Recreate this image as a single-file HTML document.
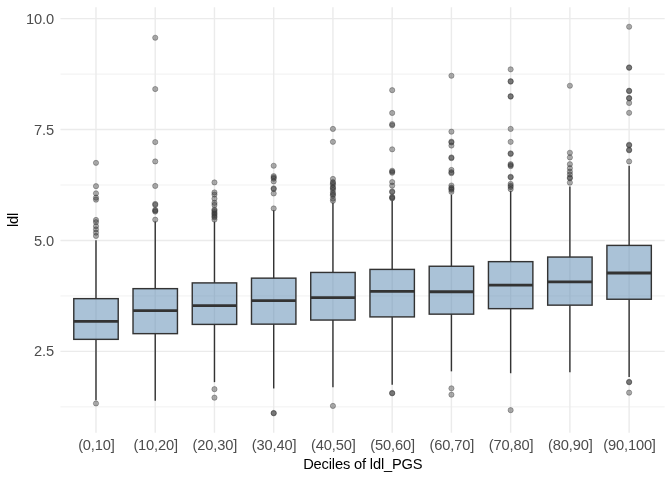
<!DOCTYPE html>
<html lang="en"><head><meta charset="utf-8"><title>ldl by deciles of ldl_PGS</title>
<style>html,body{margin:0;padding:0;background:#fff;overflow:hidden}body{width:672px;height:480px}</style></head>
<body>
<svg width="672" height="480" viewBox="0 0 672 480" style="display:block">
<rect width="672" height="480" fill="#fff"/>
<g stroke="#EBEBEB" stroke-width="0.71" fill="none">
<line x1="60.45" x2="664.67" y1="406.86" y2="406.86"/>
<line x1="60.45" x2="664.67" y1="295.94" y2="295.94"/>
<line x1="60.45" x2="664.67" y1="185.03" y2="185.03"/>
<line x1="60.45" x2="664.67" y1="74.11" y2="74.11"/>
</g>
<g stroke="#EBEBEB" stroke-width="1.42" fill="none">
<line x1="60.45" x2="664.67" y1="351.40" y2="351.40"/>
<line x1="60.45" x2="664.67" y1="240.48" y2="240.48"/>
<line x1="60.45" x2="664.67" y1="129.57" y2="129.57"/>
<line x1="60.45" x2="664.67" y1="18.65" y2="18.65"/>
<line x1="95.99" x2="95.99" y1="7.33" y2="432.70"/>
<line x1="155.23" x2="155.23" y1="7.33" y2="432.70"/>
<line x1="214.47" x2="214.47" y1="7.33" y2="432.70"/>
<line x1="273.70" x2="273.70" y1="7.33" y2="432.70"/>
<line x1="332.94" x2="332.94" y1="7.33" y2="432.70"/>
<line x1="392.18" x2="392.18" y1="7.33" y2="432.70"/>
<line x1="451.42" x2="451.42" y1="7.33" y2="432.70"/>
<line x1="510.65" x2="510.65" y1="7.33" y2="432.70"/>
<line x1="569.89" x2="569.89" y1="7.33" y2="432.70"/>
<line x1="629.13" x2="629.13" y1="7.33" y2="432.70"/>
</g>
<g fill="#333" fill-opacity="0.4" stroke="#333" stroke-opacity="0.4" stroke-width="0.945">
<circle cx="95.99" cy="162.85" r="2.6"/>
<circle cx="95.99" cy="186.15" r="2.6"/>
<circle cx="95.99" cy="193.35" r="2.6"/>
<circle cx="95.99" cy="197.65" r="2.6"/>
<circle cx="95.99" cy="199.65" r="2.6"/>
<circle cx="95.99" cy="219.95" r="2.6"/>
<circle cx="95.99" cy="222.15" r="2.6"/>
<circle cx="95.99" cy="226.15" r="2.6"/>
<circle cx="95.99" cy="229.45" r="2.6"/>
<circle cx="95.99" cy="232.65" r="2.6"/>
<circle cx="95.99" cy="235.95" r="2.6"/>
<circle cx="95.99" cy="403.45" r="2.6"/>
<circle cx="155.23" cy="37.75" r="2.6"/>
<circle cx="155.23" cy="89.05" r="2.6"/>
<circle cx="155.23" cy="142.05" r="2.6"/>
<circle cx="155.23" cy="161.45" r="2.6"/>
<circle cx="155.23" cy="185.95" r="2.6"/>
<circle cx="155.23" cy="203.95" r="2.6"/>
<circle cx="155.23" cy="204.95" r="2.6"/>
<circle cx="155.23" cy="209.95" r="2.6"/>
<circle cx="155.23" cy="210.75" r="2.6"/>
<circle cx="155.23" cy="211.55" r="2.6"/>
<circle cx="155.23" cy="219.65" r="2.6"/>
<circle cx="214.47" cy="182.45" r="2.6"/>
<circle cx="214.47" cy="192.45" r="2.6"/>
<circle cx="214.47" cy="194.55" r="2.6"/>
<circle cx="214.47" cy="198.65" r="2.6"/>
<circle cx="214.47" cy="202.85" r="2.6"/>
<circle cx="214.47" cy="204.95" r="2.6"/>
<circle cx="214.47" cy="209.55" r="2.6"/>
<circle cx="214.47" cy="210.65" r="2.6"/>
<circle cx="214.47" cy="212.15" r="2.6"/>
<circle cx="214.47" cy="213.55" r="2.6"/>
<circle cx="214.47" cy="214.75" r="2.6"/>
<circle cx="214.47" cy="216.15" r="2.6"/>
<circle cx="214.47" cy="217.45" r="2.6"/>
<circle cx="214.47" cy="219.55" r="2.6"/>
<circle cx="214.47" cy="389.15" r="2.6"/>
<circle cx="214.47" cy="397.65" r="2.6"/>
<circle cx="273.70" cy="165.75" r="2.6"/>
<circle cx="273.70" cy="176.15" r="2.6"/>
<circle cx="273.70" cy="177.45" r="2.6"/>
<circle cx="273.70" cy="178.65" r="2.6"/>
<circle cx="273.70" cy="181.40" r="2.6"/>
<circle cx="273.70" cy="188.35" r="2.6"/>
<circle cx="273.70" cy="189.05" r="2.6"/>
<circle cx="273.70" cy="193.45" r="2.6"/>
<circle cx="273.70" cy="208.45" r="2.6"/>
<circle cx="273.70" cy="412.95" r="2.6"/>
<circle cx="273.70" cy="413.35" r="2.6"/>
<circle cx="332.94" cy="128.90" r="2.6"/>
<circle cx="332.94" cy="141.85" r="2.6"/>
<circle cx="332.94" cy="178.90" r="2.6"/>
<circle cx="332.94" cy="182.05" r="2.6"/>
<circle cx="332.94" cy="184.75" r="2.6"/>
<circle cx="332.94" cy="187.15" r="2.6"/>
<circle cx="332.94" cy="189.95" r="2.6"/>
<circle cx="332.94" cy="192.85" r="2.6"/>
<circle cx="332.94" cy="195.55" r="2.6"/>
<circle cx="332.94" cy="198.65" r="2.6"/>
<circle cx="332.94" cy="200.75" r="2.6"/>
<circle cx="332.94" cy="183.15" r="2.6"/>
<circle cx="332.94" cy="188.15" r="2.6"/>
<circle cx="332.94" cy="194.15" r="2.6"/>
<circle cx="332.94" cy="405.90" r="2.6"/>
<circle cx="392.18" cy="90.15" r="2.6"/>
<circle cx="392.18" cy="112.95" r="2.6"/>
<circle cx="392.18" cy="124.15" r="2.6"/>
<circle cx="392.18" cy="125.35" r="2.6"/>
<circle cx="392.18" cy="149.35" r="2.6"/>
<circle cx="392.18" cy="170.75" r="2.6"/>
<circle cx="392.18" cy="171.75" r="2.6"/>
<circle cx="392.18" cy="172.75" r="2.6"/>
<circle cx="392.18" cy="182.05" r="2.6"/>
<circle cx="392.18" cy="185.65" r="2.6"/>
<circle cx="392.18" cy="191.35" r="2.6"/>
<circle cx="392.18" cy="192.15" r="2.6"/>
<circle cx="392.18" cy="196.95" r="2.6"/>
<circle cx="392.18" cy="197.65" r="2.6"/>
<circle cx="392.18" cy="198.35" r="2.6"/>
<circle cx="392.18" cy="392.95" r="2.6"/>
<circle cx="392.18" cy="393.35" r="2.6"/>
<circle cx="451.42" cy="75.75" r="2.6"/>
<circle cx="451.42" cy="131.65" r="2.6"/>
<circle cx="451.42" cy="141.65" r="2.6"/>
<circle cx="451.42" cy="142.45" r="2.6"/>
<circle cx="451.42" cy="145.55" r="2.6"/>
<circle cx="451.42" cy="157.45" r="2.6"/>
<circle cx="451.42" cy="158.15" r="2.6"/>
<circle cx="451.42" cy="169.95" r="2.6"/>
<circle cx="451.42" cy="172.15" r="2.6"/>
<circle cx="451.42" cy="173.15" r="2.6"/>
<circle cx="451.42" cy="185.55" r="2.6"/>
<circle cx="451.42" cy="187.65" r="2.6"/>
<circle cx="451.42" cy="189.75" r="2.6"/>
<circle cx="451.42" cy="191.85" r="2.6"/>
<circle cx="451.42" cy="188.65" r="2.6"/>
<circle cx="451.42" cy="388.35" r="2.6"/>
<circle cx="451.42" cy="394.65" r="2.6"/>
<circle cx="510.65" cy="69.35" r="2.6"/>
<circle cx="510.65" cy="81.15" r="2.6"/>
<circle cx="510.65" cy="81.65" r="2.6"/>
<circle cx="510.65" cy="96.15" r="2.6"/>
<circle cx="510.65" cy="96.65" r="2.6"/>
<circle cx="510.65" cy="128.90" r="2.6"/>
<circle cx="510.65" cy="141.85" r="2.6"/>
<circle cx="510.65" cy="153.35" r="2.6"/>
<circle cx="510.65" cy="153.95" r="2.6"/>
<circle cx="510.65" cy="164.15" r="2.6"/>
<circle cx="510.65" cy="165.15" r="2.6"/>
<circle cx="510.65" cy="166.15" r="2.6"/>
<circle cx="510.65" cy="176.75" r="2.6"/>
<circle cx="510.65" cy="177.35" r="2.6"/>
<circle cx="510.65" cy="183.90" r="2.6"/>
<circle cx="510.65" cy="187.05" r="2.6"/>
<circle cx="510.65" cy="189.15" r="2.6"/>
<circle cx="510.65" cy="185.65" r="2.6"/>
<circle cx="510.65" cy="410.15" r="2.6"/>
<circle cx="569.89" cy="85.75" r="2.6"/>
<circle cx="569.89" cy="152.75" r="2.6"/>
<circle cx="569.89" cy="157.45" r="2.6"/>
<circle cx="569.89" cy="164.15" r="2.6"/>
<circle cx="569.89" cy="168.15" r="2.6"/>
<circle cx="569.89" cy="171.65" r="2.6"/>
<circle cx="569.89" cy="174.45" r="2.6"/>
<circle cx="569.89" cy="177.45" r="2.6"/>
<circle cx="569.89" cy="178.35" r="2.6"/>
<circle cx="569.89" cy="182.65" r="2.6"/>
<circle cx="629.13" cy="26.75" r="2.6"/>
<circle cx="629.13" cy="67.35" r="2.6"/>
<circle cx="629.13" cy="67.85" r="2.6"/>
<circle cx="629.13" cy="90.65" r="2.6"/>
<circle cx="629.13" cy="91.15" r="2.6"/>
<circle cx="629.13" cy="97.95" r="2.6"/>
<circle cx="629.13" cy="98.45" r="2.6"/>
<circle cx="629.13" cy="102.95" r="2.6"/>
<circle cx="629.13" cy="112.85" r="2.6"/>
<circle cx="629.13" cy="144.75" r="2.6"/>
<circle cx="629.13" cy="145.35" r="2.6"/>
<circle cx="629.13" cy="149.75" r="2.6"/>
<circle cx="629.13" cy="150.35" r="2.6"/>
<circle cx="629.13" cy="161.45" r="2.6"/>
<circle cx="629.13" cy="381.85" r="2.6"/>
<circle cx="629.13" cy="382.25" r="2.6"/>
<circle cx="629.13" cy="392.65" r="2.6"/>
</g>
<g stroke="#333" stroke-width="1.42" fill="none">
<line x1="95.99" x2="95.99" y1="240.15" y2="298.65"/>
<line x1="95.99" x2="95.99" y1="339.35" y2="400.35"/>
<line x1="155.23" x2="155.23" y1="221.45" y2="288.65"/>
<line x1="155.23" x2="155.23" y1="333.65" y2="400.75"/>
<line x1="214.47" x2="214.47" y1="221.65" y2="282.90"/>
<line x1="214.47" x2="214.47" y1="324.40" y2="382.15"/>
<line x1="273.70" x2="273.70" y1="210.35" y2="278.15"/>
<line x1="273.70" x2="273.70" y1="324.15" y2="388.45"/>
<line x1="332.94" x2="332.94" y1="202.85" y2="272.45"/>
<line x1="332.94" x2="332.94" y1="320.05" y2="387.35"/>
<line x1="392.18" x2="392.18" y1="200.55" y2="269.40"/>
<line x1="392.18" x2="392.18" y1="316.90" y2="384.75"/>
<line x1="451.42" x2="451.42" y1="194.75" y2="266.25"/>
<line x1="451.42" x2="451.42" y1="314.15" y2="371.35"/>
<line x1="510.65" x2="510.65" y1="191.15" y2="261.65"/>
<line x1="510.65" x2="510.65" y1="308.65" y2="373.25"/>
<line x1="569.89" x2="569.89" y1="186.45" y2="257.05"/>
<line x1="569.89" x2="569.89" y1="305.15" y2="372.15"/>
<line x1="629.13" x2="629.13" y1="165.65" y2="245.40"/>
<line x1="629.13" x2="629.13" y1="299.25" y2="377.05"/>
</g>
<g stroke="#333" stroke-width="1.42" fill="#5585AF" fill-opacity="0.5" stroke-linejoin="miter">
<rect x="73.78" y="298.65" width="44.43" height="40.70"/>
<rect x="133.02" y="288.65" width="44.43" height="45.00"/>
<rect x="192.25" y="282.90" width="44.43" height="41.50"/>
<rect x="251.49" y="278.15" width="44.43" height="46.00"/>
<rect x="310.73" y="272.45" width="44.43" height="47.60"/>
<rect x="369.96" y="269.40" width="44.43" height="47.50"/>
<rect x="429.20" y="266.25" width="44.43" height="47.90"/>
<rect x="488.44" y="261.65" width="44.43" height="47.00"/>
<rect x="547.68" y="257.05" width="44.43" height="48.10"/>
<rect x="606.91" y="245.40" width="44.43" height="53.85"/>
</g>
<g stroke="#333" stroke-width="2.85" fill="none">
<line x1="73.78" x2="118.21" y1="321.40" y2="321.40"/>
<line x1="133.02" x2="177.44" y1="310.55" y2="310.55"/>
<line x1="192.25" x2="236.68" y1="305.60" y2="305.60"/>
<line x1="251.49" x2="295.92" y1="300.55" y2="300.55"/>
<line x1="310.73" x2="355.16" y1="297.55" y2="297.55"/>
<line x1="369.96" x2="414.39" y1="291.30" y2="291.30"/>
<line x1="429.20" x2="473.63" y1="291.70" y2="291.70"/>
<line x1="488.44" x2="532.87" y1="285.05" y2="285.05"/>
<line x1="547.68" x2="592.10" y1="281.80" y2="281.80"/>
<line x1="606.91" x2="651.34" y1="273.00" y2="273.00"/>
</g>
<g font-family="'Liberation Sans', Arial, Helvetica, sans-serif" font-size="14.67px" letter-spacing="-0.16">
<g fill="#4D4D4D" text-anchor="end">
<text transform="translate(54.0,356.45) scale(1,1.06)">2.5</text>
<text transform="translate(54.0,245.53) scale(1,1.06)">5.0</text>
<text transform="translate(54.0,134.62) scale(1,1.06)">7.5</text>
<text transform="translate(54.0,23.70) scale(1,1.06)">10.0</text>
</g>
<g fill="#4D4D4D" text-anchor="middle">
<text transform="translate(96.39,449.8) scale(1,1.04)">(0,10]</text>
<text transform="translate(155.63,449.8) scale(1,1.04)">(10,20]</text>
<text transform="translate(214.87,449.8) scale(1,1.04)">(20,30]</text>
<text transform="translate(274.10,449.8) scale(1,1.04)">(30,40]</text>
<text transform="translate(333.34,449.8) scale(1,1.04)">(40,50]</text>
<text transform="translate(392.58,449.8) scale(1,1.04)">(50,60]</text>
<text transform="translate(451.82,449.8) scale(1,1.04)">(60,70]</text>
<text transform="translate(511.05,449.8) scale(1,1.04)">(70,80]</text>
<text transform="translate(570.29,449.8) scale(1,1.04)">(80,90]</text>
<text transform="translate(629.53,449.8) scale(1,1.04)">(90,100]</text>
</g>
<text x="362.81" y="468.75" text-anchor="middle" fill="#000">Deciles of ldl_PGS</text>
<text transform="translate(18.1,220.01) rotate(-90)" text-anchor="middle" fill="#000">ldl</text>
</g>
</svg>
</body></html>
